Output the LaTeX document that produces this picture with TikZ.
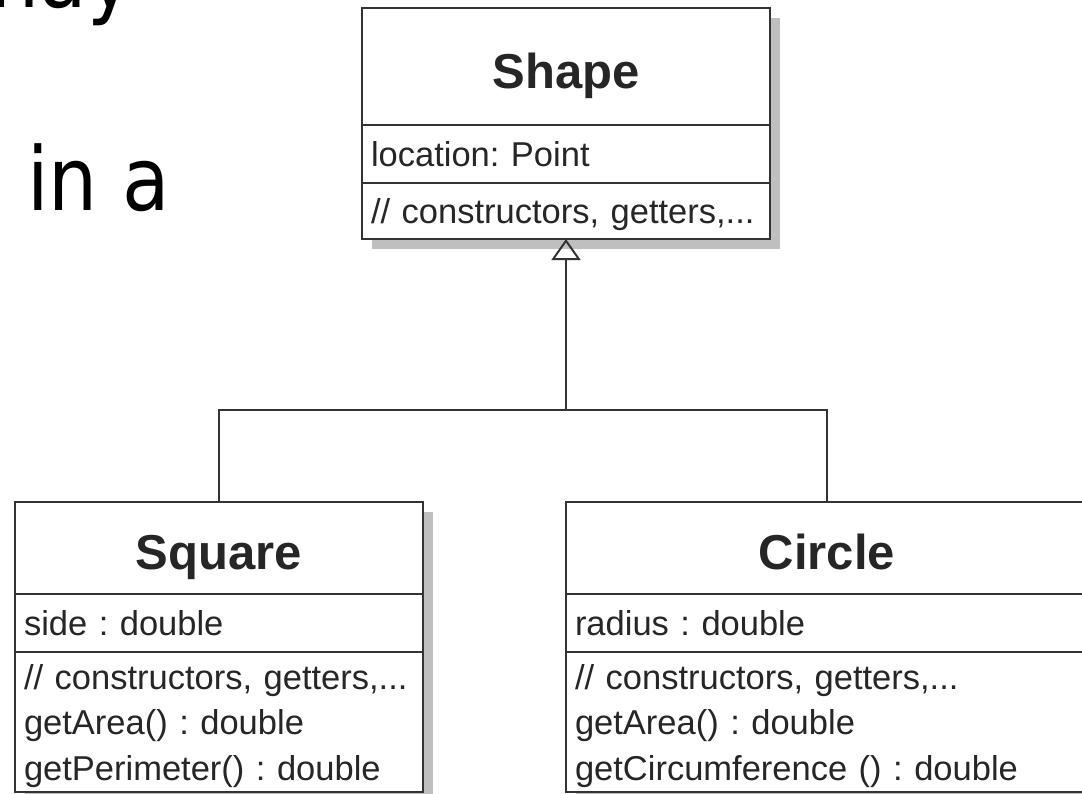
\documentclass[tikz,border=0pt]{standalone}
\usepackage{fontspec}
\setmainfont{Liberation Sans}
\newfontfamily\slidefont[FakeStretch=0.88]{DejaVu Sans}
\usetikzlibrary{arrows.meta,positioning,shadows}
\frenchspacing

\newcommand{\umltitle}{\fontsize{49}{58}\selectfont\bfseries}
\newcommand{\umlbody}{\fontsize{34.5}{45.5}\selectfont\hyphenpenalty=10000}
\newcommand{\umlstrut}{\rule[-8pt]{0pt}{41pt}}

\begin{document}
\begin{tikzpicture}[
        x=1pt, y=1pt,
        node distance=0pt,
        % Compartment boxes of the class diagram
        umlpart/.style={rectangle, draw=black!80, line width=2pt, fill=white, outer sep=0pt, inner xsep=9pt, inner ysep=0pt, text=black!85,
            general shadow={fill=black!25, shadow xshift=10pt, shadow yshift=-10pt}},
        classname/.style={umlpart, align=center, minimum height=92pt, text height=46pt, text depth=3pt, font=\umltitle},
        members/.style={umlpart, align=left, minimum height=58pt, font=\umlbody, execute at begin node=\umlstrut, execute at end node=\umlstrut},
        slim/.style={minimum width=408pt, text width=390pt},
        wide/.style={minimum width=522pt, text width=504pt},
        % Connectors
        umlline/.style={draw=black!80, line width=2pt},
        inheritarrow/.style={umlline, -{Triangle[open, length=21pt, width=29pt]}},
        % Slide text behind the diagram
        slidetext/.style={font=\slidefont\fontsize{88}{100}\selectfont, inner sep=0pt, text=black}
    ]

    \useasboundingbox (0,0) rectangle (1082,-793);
    \clip (0,0) rectangle (1082,-793);

    % Slide text
    \node[slidetext, anchor=base east] (word) at (133,-7) {nay};
    \node[slidetext, anchor=base east] (phrase) at (170,-210) {s in a};

    % Base class
    \node[classname, slim, minimum height=117pt, anchor=north] (shapename) at (566,-8) {Shape};
    \node[members, slim, below=of shapename] (shapeattr) {location: Point};
    \node[members, slim, minimum height=56pt, below=of shapeattr] (shapeops) {// constructors, getters,...};

    % Left subclass
    \node[classname, slim, anchor=north] (sqname) at (219,-502) {Square};
    \node[members, slim, below=of sqname] (sqattr) {side : double};
    \node[members, slim, minimum height=140pt, below=of sqattr] (sqops) {// constructors, getters,...\\getArea() : double\\getPerimeter() : double};

    % Right subclass
    \node[classname, wide, anchor=north] (circname) at (827,-502) {Circle};
    \node[members, wide, below=of circname] (circattr) {radius : double};
    \node[members, wide, minimum height=140pt, below=of circattr] (circops) {// constructors, getters,...\\getArea() : double\\getCircumference () : double};

    % Inheritance
    \coordinate[below=171pt of shapeops.south] (bus);
    \draw[umlline] (sqname.north) |- (bus) -| (circname.north);
    \draw[inheritarrow] (bus) -- (shapeops.south);

\end{tikzpicture}
\end{document}
